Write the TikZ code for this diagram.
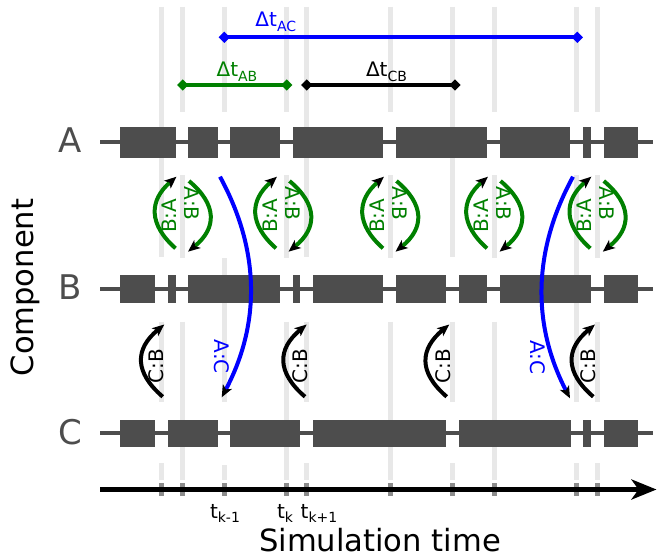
\documentclass[tikz,border=0pt]{standalone}
\usepackage{fontspec}
\setmainfont{DejaVu Sans}
\usetikzlibrary{arrows.meta,shapes.geometric,calc}
\definecolor{barc}{HTML}{4D4D4D}
\definecolor{evline}{HTML}{E8E8E8}
\definecolor{tickc}{HTML}{8C8C8C}
\definecolor{mgreen}{RGB}{0,128,0}
\definecolor{mblue}{RGB}{0,0,255}
\newcommand{\sbx}[1]{\raisebox{-5pt}{\fontsize{14}{16}\selectfont #1}}
\newcommand{\sbt}[1]{\raisebox{-3.8pt}{\fontsize{14}{16}\selectfont #1}}
\begin{document}
\begin{tikzpicture}[x=1pt,y=-1pt,
  evl/.style={draw=evline,line width=5pt},
  tickmark/.style={draw=tickc,line width=5pt},
  rowline/.style={draw=barc,line width=4.3pt},
  rowlab/.style={text=barc,font=\fontsize{34}{40}\selectfont,inner sep=0pt},
  axlab/.style={font=\fontsize{30.6}{36}\selectfont,inner sep=0pt},
  smalllab/.style={font=\fontsize{20}{24}\selectfont,inner sep=0pt},
  dmd/.style={diamond,inner sep=0pt,minimum width=11.5pt,minimum height=11.5pt},
  spanline/.style={line width=4.3pt},
  msg/.style={line width=4pt,-{Stealth[length=12pt,width=10pt,inset=3pt,color=black]}},
]
\useasboundingbox (0,0) rectangle (657,557);

% event lines
\foreach \x in {161.7,182.7,224.3,286.7,306.7,390,452.7,494,576.7,597.3}{
  \draw[evl] (\x,6.7) -- (\x,111.7);
  \draw[tickmark] (\x,483) -- (\x,496);
}
\foreach \x in {161.7,306.7,452.7}{
  \draw[evl] (\x,111.7) -- (\x,256.7);
  \draw[evl] (\x,321.7) -- (\x,401.7);
  \draw[evl] (\x,463.3) -- (\x,480);
}
\foreach \x in {182.7,286.7,390,494}{
  \draw[evl] (\x,175) -- (\x,258);
  \draw[evl] (\x,321.7) -- (\x,480);
}
\draw[evl] (597.3,175) -- (597.3,258);
\draw[evl] (597.3,321.7) -- (597.3,401.7);
\draw[evl] (597.3,463.3) -- (597.3,480);
\draw[evl] (576.7,175) -- (576.7,401.7);
\draw[evl] (576.7,463.3) -- (576.7,480);
\draw[evl] (224.3,258) -- (224.3,401.7);
\draw[evl] (224.3,465) -- (224.3,480);

% rows
\draw[rowline] (100,142.2) -- (653.3,142.2);
\draw[rowline] (100,289.2) -- (653.3,289.2);
\draw[rowline] (100,432.8) -- (653.3,432.8);
\foreach \a/\b in {120/176,188.3/217.7,230/280,292.7/383,395.8/487,500/570,583.3/590.7,604.3/638.3}
  \fill[barc] (\a,126.7) rectangle (\b,157.7);
\foreach \a/\b in {120/155,168.3/176,188.3/280,292.7/300,313.3/383,395.8/446,459/487.3,500/590.7,604.3/638.3}
  \fill[barc] (\a,275) rectangle (\b,303.3);
\foreach \a/\b in {120/155,168.3/217.7,230/300,313.3/446,459/570.7,583.3/590.7,604.3/638.3}
  \fill[barc] (\a,420) rectangle (\b,446.7);

\node[rowlab] (rA) at (70,140.5) {A};
\node[rowlab] (rB) at (70,287.5) {B};
\node[rowlab] (rC) at (70,432.5) {C};
\node[axlab,rotate=90] (ylab) at (25.5,287.5) {Component};

% delta t spans
\node[dmd,fill=mblue] (ac1) at (224.3,37.3) {};
\node[dmd,fill=mblue] (ac2) at (577.3,37.3) {};
\draw[spanline,mblue] (ac1.center) -- (ac2.center);
\node[dmd,fill=mgreen] (ab1) at (182.7,85) {};
\node[dmd,fill=mgreen] (ab2) at (286.7,85) {};
\draw[spanline,mgreen] (ab1.center) -- (ab2.center);
\node[dmd,fill=black] (cb1) at (306.7,85) {};
\node[dmd,fill=black] (cb2) at (455,85) {};
\draw[spanline,black] (cb1.center) -- (cb2.center);
\node[smalllab,text=mblue,anchor=base] (lac) at (275.8,26.3) {Δt\sbx{AC}};
\node[smalllab,text=mgreen,anchor=base] (lab) at (237,76) {Δt\sbx{AB}};
\node[smalllab,text=black,anchor=base] (lcb) at (386.5,76) {Δt\sbx{CB}};

% green A-B exchanges
\foreach \c [count=\i] in {182.5,283,390,494,597.3}{
  \coordinate (bas\i) at (\c-7,248.3);
  \coordinate (bae\i) at (\c-6,176.7);
  \coordinate (abs\i) at (\c+6.5,181);
  \coordinate (abe\i) at (\c+5.5,251.7);
  \draw[msg,draw=mgreen] (bas\i) .. controls +(-27,-23.9) and +(-27.7,23.9) .. (bae\i);
  \draw[msg,draw=mgreen] (abs\i) .. controls +(28.3,23.6) and +(29,-23.6) .. (abe\i);
  \node[smalllab,text=mgreen,rotate=90] (tba\i) at (\c-12.8,215.8) {B:A};
  \node[smalllab,text=mgreen,rotate=-90] (tab\i) at (\c+9.7,203.8) {A:B};
}

% black C-B exchanges
\foreach \sx/\ex/\tx [count=\i] in {162.7/164.3/156.7,305/306.7/300,446.7/449.3/443.3,593.3/595/588.3}{
  \coordinate (cbs\i) at (\sx,396.7);
  \coordinate (cbe\i) at (\ex,324.5);
  \draw[msg,draw=black] (cbs\i) .. controls +(-28.5,-24.5) and +(-29.6,24.5) .. (cbe\i);
  \node[smalllab,rotate=90] (tcb\i) at (\tx,365.8) {C:B};
}

% blue A-C exchanges
\coordinate (acs1) at (220,176.7);
\coordinate (ace1) at (221.7,397.3);
\draw[msg,draw=mblue] (acs1) .. controls +(40.1,73.5) and +(39,-73.5) .. (ace1);
\node[smalllab,text=mblue,rotate=-90] (tac1) at (221.7,356.7) {A:C};
\coordinate (acs2) at (573,176.7);
\coordinate (ace2) at (570,398.3);
\draw[msg,draw=mblue] (acs2) .. controls +(-40.3,73.9) and +(-38.3,-73.9) .. (ace2);
\node[smalllab,text=mblue,rotate=-90] (tac2) at (537.5,357.5) {A:C};

% time axis
\coordinate (ax0) at (100,489.5);
\coordinate (ax1) at (656.5,489.5);
\draw[line width=4.5pt,-{Stealth[length=25pt,width=20pt,inset=7pt]}] (ax0) -- (ax1);
\node[smalllab,anchor=base] (tkm) at (225,518.3) {t\sbt{k-1}};
\node[smalllab,anchor=base] (tk) at (285,518.3) {t\sbt{k}};
\node[smalllab,anchor=base] (tkp) at (319,518.3) {t\sbt{k+1}};
\node[axlab] (xlab) at (380,540) {Simulation time};
\end{tikzpicture}
\end{document}
